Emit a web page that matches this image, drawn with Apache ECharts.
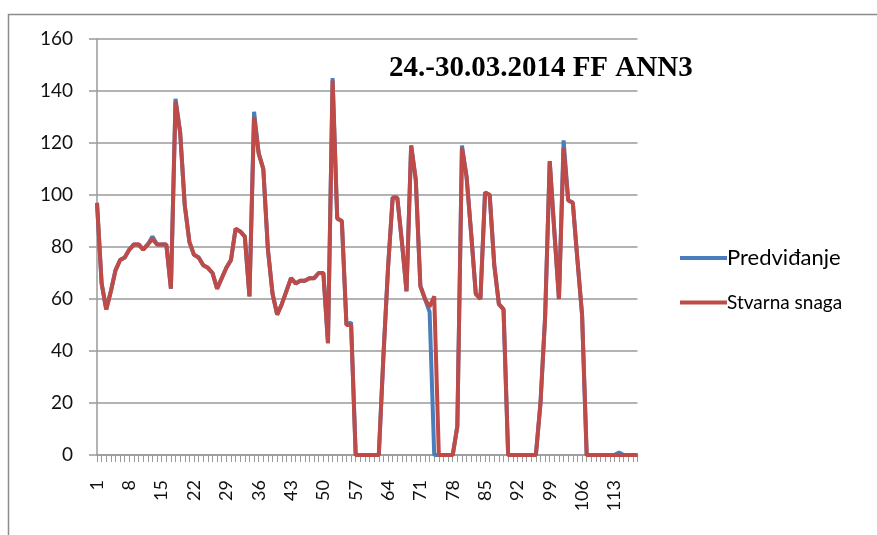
<!DOCTYPE html>
<html>
<head>
<meta charset="utf-8">
<script src="https://cdn.jsdelivr.net/npm/echarts@6/dist/echarts.min.js"></script>
<style>html,body{margin:0;padding:0;background:#fff}#c{width:877px;height:535px}</style>
</head>
<body>
<div id="c"></div>
<script>
var titleText = '24.-30.03.2014 FF ANN3';
var seriesNames = ['Predviđanje', 'Stvarna snaga'];
var yTicks = [0, 20, 40, 60, 80, 100, 120, 140, 160];
var categories = [];
for (var k = 1; k <= 118; k++) categories.push(String(k));

var stvarna = [
  97, 66, 56, 63, 71, 75, 76, 79, 81, 81,
  79, 81, 83, 81, 81, 81, 64, 136, 124, 96,
  82, 77, 76, 73, 72, 70, 64, 68, 72, 75,
  87, 86, 84, 61, 130, 116, 110, 79, 62, 54,
  58, 63, 68, 66, 67, 67, 68, 68, 70, 70,
  43, 144, 91, 90, 50, 50, 0, 0, 0, 0,
  0, 0, 38, 72, 99, 99, 82, 63, 119, 106,
  65, 60, 57, 61, 0, 0, 0, 0, 11, 118,
  107, 85, 62, 60, 101, 100, 73, 58, 56, 0,
  0, 0, 0, 0, 0, 0, 20, 53, 113, 86,
  60, 118, 98, 97, 75, 54, 0, 0, 0, 0,
  0, 0, 0, 0, 0, 0, 0, 0
];
var predvidjanje = [
  97, 66, 56, 63, 71, 75, 76, 79, 81, 81,
  79, 81, 84, 81, 81, 81, 64, 137, 124, 96,
  82, 77, 76, 73, 72, 70, 64, 68, 72, 75,
  87, 86, 84, 61, 132, 116, 110, 79, 62, 54,
  58, 63, 68, 66, 67, 67, 68, 68, 70, 70,
  43, 145, 91, 90, 50, 51, 0, 0, 0, 0,
  0, 0, 38, 72, 99, 99, 82, 63, 119, 106,
  65, 60, 55, 0, 0, 0, 0, 0, 11, 119,
  107, 85, 62, 60, 101, 100, 73, 58, 56, 0,
  0, 0, 0, 0, 0, 0, 20, 53, 113, 86,
  60, 121, 98, 97, 75, 54, 0, 0, 0, 0,
  0, 0, 0, 1, 0, 0, 0, 0
];

var chart = echarts.init(document.getElementById('c'), null, {renderer: 'canvas'});
chart.setOption({
  animation: false,
  backgroundColor: '#ffffff',
  graphic: [{
    type: 'rect', z: -10,
    shape: {x: 8.5, y: 14.5, width: 900, height: 600},
    style: {fill: 'none', stroke: '#8c8c8c', lineWidth: 1.5}
  }, {
    type: 'text', left: 389, top: 54,
    style: {text: titleText, font: 'bold 29px "Liberation Serif"', fill: '#000'}
  }],
  grid: {left: 97, right: 239.5, top: 39, bottom: 80, containLabel: false},
  legend: [{
    data: [seriesNames[0]], left: 675, top: 242, icon: 'rect',
    itemWidth: 47, itemHeight: 4,
    textStyle: {fontFamily: 'Lato', fontSize: 22, color: '#000', padding: [0, 0, 0, -5]}
  }, {
    data: [seriesNames[1]], left: 675, top: 288, icon: 'rect',
    itemWidth: 47, itemHeight: 4,
    textStyle: {fontFamily: 'Lato', fontSize: 19, color: '#000', padding: [0, 0, 0, -5]}
  }],
  xAxis: {
    type: 'category', data: categories, boundaryGap: false,
    axisLine: {lineStyle: {color: '#9a9a9a', width: 1.5}},
    axisTick: {show: true, interval: 0, length: 7, lineStyle: {color: '#9a9a9a'}},
    axisLabel: {interval: 6, rotate: 90, margin: 25, fontFamily: 'Lato', fontSize: 18, color: '#111'},
    splitLine: {show: false}
  },
  yAxis: {
    type: 'value', min: yTicks[0], max: yTicks[yTicks.length - 1], interval: 20,
    axisLine: {show: true, lineStyle: {color: '#9a9a9a', width: 1.5}},
    axisTick: {show: true, length: 8, lineStyle: {color: '#9a9a9a', width: 1.5}},
    axisLabel: {margin: 24, fontFamily: 'Lato', fontSize: 19, color: '#111'},
    splitLine: {show: true, lineStyle: {color: '#9a9a9a', width: 1.5}}
  },
  series: [{
    name: seriesNames[0], type: 'line', data: predvidjanje, showSymbol: false, symbol: 'none',
    color: '#4a7ebb', lineStyle: {width: 4, color: '#4a7ebb'}
  }, {
    name: seriesNames[1], type: 'line', data: stvarna, showSymbol: false, symbol: 'none',
    color: '#be4b48', lineStyle: {width: 4, color: '#be4b48'}
  }]
});
</script>
</body>
</html>
